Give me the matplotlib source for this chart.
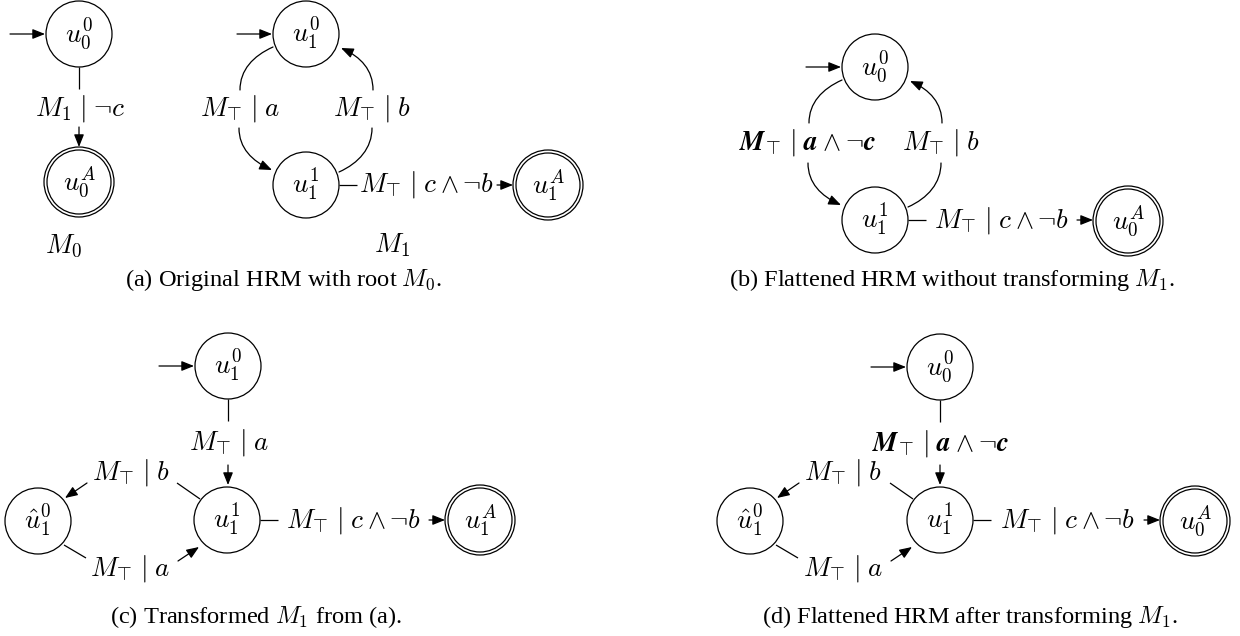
import matplotlib
matplotlib.use("Agg")
import matplotlib.pyplot as plt
from matplotlib.patches import Circle, FancyArrowPatch
from matplotlib.path import Path

plt.rcParams['mathtext.fontset'] = 'cm'
plt.rcParams['font.family'] = ['Liberation Serif', 'DejaVu Serif']

# ---------------- data (text content) ----------------
captions = ["(a) Original HRM with root $M_0$.",
            "(b) Flattened HRM without transforming $M_1$.",
            "(c) Transformed $M_1$ from (a).",
            "(d) Flattened HRM after transforming $M_1$."]
machine_names = ["$M_0$", "$M_1$"]
states_M0 = ["$u_0^0$", "$u_0^A$"]
states_M1 = ["$u_1^0$", "$u_1^1$", "$u_1^A$"]
states_flat = ["$u_0^0$", "$u_1^1$", "$u_0^A$"]
state_hat = "$\\hat{u}_1^0$"
lbl_M0 = "$M_1 \\;|\\; \\neg c$"
lbl_a = "$M_{\\!\\top} \\,|\\; a$"
lbl_b = "$M_{\\!\\top} \\,|\\; b$"
lbl_cb = "$M_{\\!\\top} \\,|\\; c \\wedge \\neg b$"
lbl_bold = ("$\\mathbfit{M}_{\\!\\boldsymbol{\\top}} \\,\\boldsymbol{|}\\; "
            "\\mathbfit{a} \\: \\boldsymbol{\\wedge} \\: \\boldsymbol{\\neg} \\mathbfit{c}$")

# ---------------- layout ----------------
W, H = 1240, 636
R = 33          # state radius
RA_OUT, RA_IN = 35, 32
FS = 19.5
FS_CAP = 17.6
LW = 0.9

fig = plt.figure(figsize=(W / 100, H / 100), dpi=100)
ax = fig.add_axes([0, 0, 1, 1])
ax.set_xlim(0, W)
ax.set_ylim(H, 0)
ax.axis('off')

ARROW = dict(arrowstyle='-|>,head_length=0.75,head_width=0.3',
             mutation_scale=10, color='black', lw=LW, shrinkA=0, shrinkB=0)


def state(c, label, accepting=False):
    if accepting:
        ax.add_patch(Circle(c, RA_OUT, fill=False, lw=LW, ec='black'))
        ax.add_patch(Circle(c, RA_IN, fill=False, lw=LW, ec='black'))
    else:
        ax.add_patch(Circle(c, R, fill=False, lw=LW, ec='black'))
    ax.text(c[0], c[1], label, ha='center', va='center', fontsize=FS)


def arrow(p0, p1):
    ax.add_patch(FancyArrowPatch(p0, p1, **ARROW))


def line(p0, p1):
    ax.plot([p0[0], p1[0]], [p0[1], p1[1]], color='black', lw=LW,
            solid_capstyle='butt')


def curve(pts, head=False):
    path = Path(pts, [Path.MOVETO, Path.CURVE4, Path.CURVE4, Path.CURVE4])
    if head:
        ax.add_patch(FancyArrowPatch(path=path, **ARROW))
    else:
        ax.add_patch(FancyArrowPatch(path=path, arrowstyle='-', color='black',
                                     lw=LW, shrinkA=0, shrinkB=0))


def add(p, d):
    return (p[0] + d[0], p[1] + d[1])


def init(c):
    arrow((c[0] - R - 36, c[1]), (c[0] - R - 1, c[1]))


def label(p, txt):
    ax.text(p[0], p[1], txt, ha='center', va='center', fontsize=FS)


def h_edge(src, dst, txt, dst_r):
    y = src[1]
    line((src[0] + R, y), (src[0] + R + 18, y))
    x1 = dst[0] - dst_r
    arrow((x1 - 16, y), (x1, y))
    label(((src[0] + R + 18 + x1 - 16) / 2, y), txt)


def v_edge(src, dst, txt, dst_r):
    x = src[0]
    line((x, src[1] + R), (x, src[1] + R + 22))
    y1 = dst[1] - dst_r
    arrow((x, y1 - 20), (x, y1))
    label((x + 1, (src[1] + R + 22 + y1 - 20) / 2), txt)


def loop(top, bot, left_txt, right_txt, left_dx=-66):
    # left: top -> bottom
    p0 = add(top, (-33, 13)); p3 = add(top, (-66, 56))
    curve([p0, add(p0, (-20, 9)), add(p3, (0, -20)), p3])
    q0 = add(bot, (-67, -57)); q3 = add(bot, (-34, -15))
    curve([q0, add(q0, (0, 20)), add(q3, (-20, -9)), q3], head=True)
    label((top[0] + left_dx, (p3[1] + q0[1]) / 2), left_txt)
    # right: bottom -> top
    r0 = add(bot, (33, -13)); r3 = add(bot, (66, -57))
    curve([r0, add(r0, (20, -9)), add(r3, (0, 20)), r3])
    s0 = add(top, (67, 56)); s3 = add(top, (35, 14))
    curve([s0, add(s0, (0, -20)), add(s3, (20, 9)), s3], head=True)
    label((top[0] + 66, (p3[1] + q0[1]) / 2), right_txt)


def lower(top, hat, mid, acc, top_lbl, acc_lbl, mid_lbl, down_lbl):
    state(top, top_lbl)
    init(top)
    state(mid, mid_lbl)
    state(hat, state_hat)
    state(acc, acc_lbl, accepting=True)
    v_edge(top, mid, down_lbl, R + 2)
    h_edge(mid, acc, lbl_cb, RA_OUT)
    # upper diagonal: mid -> hat
    line(add(mid, (-27, -21)), add(mid, (-50, -37)))
    arrow(add(hat, (49, -38)), add(hat, (27, -23)))
    label(((mid[0] + hat[0]) / 2 - 2, mid[1] - 47), lbl_b)
    # lower diagonal: hat -> mid
    line(add(hat, (26, 24)), add(hat, (48, 37)))
    arrow(add(mid, (-49, 41)), add(mid, (-28, 27)))
    label(((mid[0] + hat[0]) / 2 - 2, mid[1] + 48), lbl_a)


# ---- panel (a) ----
a_u00, a_u0A = (79, 34), (79, 182)
state(a_u00, states_M0[0]); init(a_u00)
state(a_u0A, states_M0[1], accepting=True)
v_edge(a_u00, a_u0A, lbl_M0, RA_OUT)
label((64, 246), machine_names[0])

a_u10, a_u11, a_u1A = (306, 34), (306, 185), (548, 185)
state(a_u10, states_M1[0]); init(a_u10)
state(a_u11, states_M1[1])
state(a_u1A, states_M1[2], accepting=True)
loop(a_u10, a_u11, lbl_a, lbl_b)
h_edge(a_u11, a_u1A, lbl_cb, RA_OUT)
label((392, 245), machine_names[1])

# ---- panel (b) ----
b_u00, b_u11, b_u0A = (875, 67), (875, 220), (1128, 221)
state(b_u00, states_flat[0]); init(b_u00)
state(b_u11, states_flat[1])
state(b_u0A, states_flat[2], accepting=True)
loop(b_u00, b_u11, lbl_bold, lbl_b, left_dx=-67)
h_edge(b_u11, b_u0A, lbl_cb, RA_OUT)

# ---- panel (c) ----
lower((228, 366), (38, 521), (227, 520), (480, 520),
      states_M1[0], states_M1[2], states_M1[1], lbl_a)

# ---- panel (d) ----
lower((940, 367), (750, 521), (940, 520), (1195, 521),
      states_flat[0], states_flat[2], states_flat[1], lbl_bold)

# ---- captions ----
for (x, y), txt in zip([(284, 280), (952, 280), (256, 617), (970, 617)], captions):
    ax.text(x, y, txt, ha='center', va='center', fontsize=FS_CAP)

fig.savefig("out.png", dpi=100)
